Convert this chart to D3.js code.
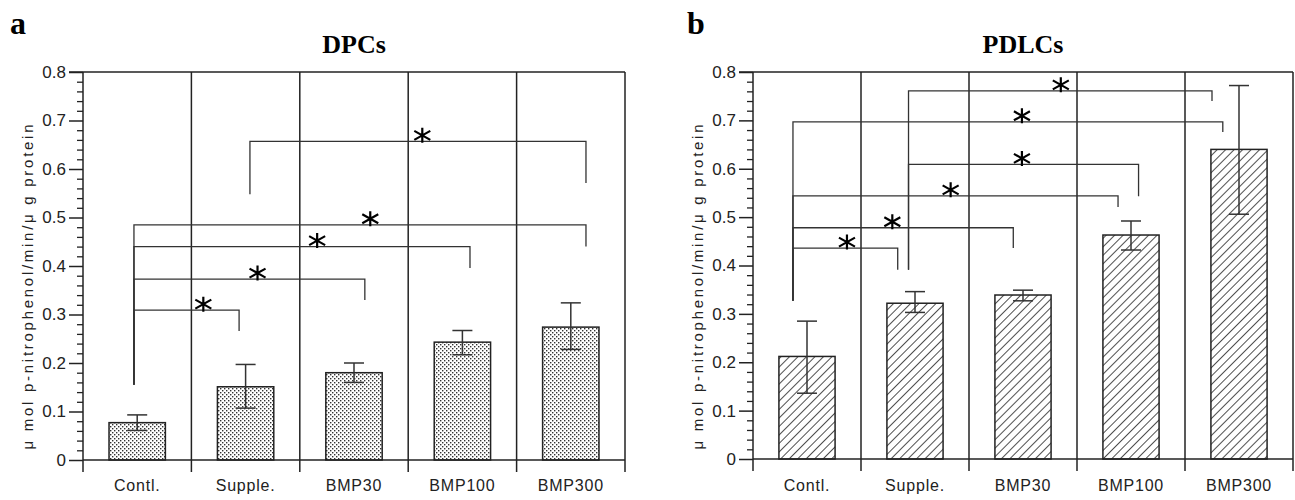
<!DOCTYPE html>
<html>
<head>
<meta charset="utf-8">
<script src="https://cdn.jsdelivr.net/npm/d3@7"></script>
<style>
  body { margin: 0; background: #fff; }
  svg { display: block; }
</style>
</head>
<body>
<div id="chart"></div>
<script>
// data
const categories = ["Contl.", "Supple.", "BMP30", "BMP100", "BMP300"];
const yTicks = [0, 0.1, 0.2, 0.3, 0.4, 0.5, 0.6, 0.7, 0.8];

const dpcMean = [0.077, 0.151, 0.180, 0.243, 0.274];
const dpcLow  = [0.061, 0.107, 0.160, 0.217, 0.228];
const dpcHigh = [0.093, 0.197, 0.200, 0.267, 0.324];

const pdlcMean = [0.212, 0.322, 0.339, 0.463, 0.640];
const pdlcLow  = [0.136, 0.303, 0.327, 0.432, 0.506];
const pdlcHigh = [0.285, 0.346, 0.349, 0.492, 0.772];

// significance brackets, x in category units (0..5), y in data units
// x1/y1 = left leg, x2/y2 = right leg, y = bar height, s = star position
const dpcBrackets = [
    {x1: 0.47, y1: 0.155, x2: 1.44, y2: 0.266, y: 0.309, s: 1.11},
    {x1: 0.47, y1: 0.155, x2: 2.60, y2: 0.330, y: 0.373, s: 1.61},
    {x1: 0.47, y1: 0.155, x2: 3.57, y2: 0.396, y: 0.440, s: 2.16},
    {x1: 0.47, y1: 0.155, x2: 4.64, y2: 0.440, y: 0.485, s: 2.65},
    {x1: 1.54, y1: 0.548, x2: 4.64, y2: 0.571, y: 0.657, s: 3.13}
];
const pdlcBrackets = [
    {x1: 0.37, y1: 0.327, x2: 1.34, y2: 0.391, y: 0.436, s: 0.87},
    {x1: 0.37, y1: 0.327, x2: 2.41, y2: 0.436, y: 0.478, s: 1.29},
    {x1: 0.37, y1: 0.327, x2: 3.38, y2: 0.521, y: 0.544, s: 1.83},
    {x1: 1.44, y1: 0.391, x2: 3.57, y2: 0.543, y: 0.609, s: 2.49},
    {x1: 0.37, y1: 0.327, x2: 4.35, y2: 0.676, y: 0.697, s: 2.49},
    {x1: 1.44, y1: 0.391, x2: 4.25, y2: 0.740, y: 0.761, s: 2.85}
];

const W = 1295, H = 500;
const svg = d3.select("#chart").append("svg")
    .attr("width", W).attr("height", H);

// fill patterns
const defs = svg.append("defs");
const dots = defs.append("pattern")
    .attr("id", "dots").attr("patternUnits", "userSpaceOnUse")
    .attr("width", 4).attr("height", 4);
dots.append("rect").attr("width", 4).attr("height", 4).attr("fill", "#fff");
dots.append("rect").attr("x", 0).attr("y", 0).attr("width", 1.4).attr("height", 1.4).attr("fill", "#333");
dots.append("rect").attr("x", 2).attr("y", 2).attr("width", 1.4).attr("height", 1.4).attr("fill", "#333");

const hatch = defs.append("pattern")
    .attr("id", "hatch").attr("patternUnits", "userSpaceOnUse")
    .attr("width", 6).attr("height", 6)
    .attr("patternTransform", "rotate(45)");
hatch.append("rect").attr("width", 6).attr("height", 6).attr("fill", "#fff");
hatch.append("line").attr("x1", 0).attr("y1", 0).attr("x2", 0).attr("y2", 6)
    .attr("stroke", "#222").attr("stroke-width", 1.6);

const starPath = "M0,-7.5L0,7.5M-8,-4.5L8,4.5M-8,4.5L8,-4.5";

function drawPanel(opt) {
    const {left, right, top, bottom, title, letter, mean, low, high, brackets, fill} = opt;
    const g = svg.append("g");

    const x = d3.scaleLinear().domain([0, categories.length]).range([left, right]);
    const y = d3.scaleLinear().domain([0, 0.8]).range([bottom, top]);

    // panel letter and title
    g.append("text")
        .attr("x", opt.letterX).attr("y", 34)
        .attr("font-family", "Liberation Serif, Times New Roman, serif")
        .attr("font-weight", "bold").attr("font-size", 32)
        .text(letter);
    g.append("text")
        .attr("x", (left + right) / 2).attr("y", 53)
        .attr("text-anchor", "middle")
        .attr("font-family", "Liberation Serif, Times New Roman, serif")
        .attr("font-weight", "bold").attr("font-size", 26)
        .text(title);

    // bars
    const bw = 0.52;
    g.selectAll("rect.bar")
        .data(mean)
        .enter().append("rect")
        .attr("class", "bar")
        .attr("x", (d, i) => x(i + 0.5 - bw / 2))
        .attr("width", x(bw) - x(0))
        .attr("y", d => y(d))
        .attr("height", d => y(0) - y(d))
        .attr("fill", `url(#${fill})`)
        .attr("stroke", "#222").attr("stroke-width", 1.5);

    // error bars
    const eb = g.selectAll("g.err").data(mean).enter().append("g")
        .attr("stroke", "#333").attr("stroke-width", 1.5);
    eb.append("line")
        .attr("x1", (d, i) => x(i + 0.5)).attr("x2", (d, i) => x(i + 0.5))
        .attr("y1", (d, i) => y(low[i])).attr("y2", (d, i) => y(high[i]));
    eb.append("line")
        .attr("x1", (d, i) => x(i + 0.5) - 10).attr("x2", (d, i) => x(i + 0.5) + 10)
        .attr("y1", (d, i) => y(high[i])).attr("y2", (d, i) => y(high[i]));
    eb.append("line")
        .attr("x1", (d, i) => x(i + 0.5) - 10).attr("x2", (d, i) => x(i + 0.5) + 10)
        .attr("y1", (d, i) => y(low[i])).attr("y2", (d, i) => y(low[i]));

    // frame: top line, baseline, category dividers extending below baseline
    const frame = g.append("g").attr("stroke", "#222").attr("stroke-width", 1.5);
    frame.append("line")
        .attr("x1", x(0) - 14).attr("x2", x(categories.length))
        .attr("y1", y(0.8)).attr("y2", y(0.8));
    frame.append("line")
        .attr("x1", x(0)).attr("x2", x(categories.length))
        .attr("y1", y(0)).attr("y2", y(0));
    frame.selectAll("line.div")
        .data(d3.range(categories.length + 1))
        .enter().append("line")
        .attr("class", "div")
        .attr("x1", d => x(d)).attr("x2", d => x(d))
        .attr("y1", y(0.8)).attr("y2", y(0) + 12);

    // brackets
    const br = g.append("g").attr("stroke", "#333").attr("stroke-width", 1.3).attr("fill", "none");
    br.selectAll("path")
        .data(brackets)
        .enter().append("path")
        .attr("d", d => `M${x(d.x1)},${y(d.y1)}V${y(d.y)}H${x(d.x2)}V${y(d.y2)}`);
    g.append("g").selectAll("path")
        .data(brackets)
        .enter().append("path")
        .attr("transform", d => `translate(${x(d.s)},${y(d.y) - 6})`)
        .attr("d", starPath)
        .attr("stroke", "#000").attr("stroke-width", 2.2);

    // y axis with minor ticks
    const major = g.append("g")
        .attr("transform", `translate(${left},0)`)
        .call(d3.axisLeft(y).tickValues(yTicks).tickSize(14).tickPadding(3)
            .tickFormat(d => d === 0 ? "0" : d3.format(".1f")(d)));
    major.select(".domain").remove();
    major.selectAll("line").attr("stroke", "#222").attr("stroke-width", 1.5);
    major.selectAll("text")
        .attr("font-family", "Liberation Sans Narrow, Arial Narrow, Liberation Sans, sans-serif")
        .attr("font-size", 17).attr("fill", "#222");

    const minorVals = d3.range(1, 40).filter(k => k % 5 !== 0).map(k => k * 0.02);
    const minor = g.append("g")
        .attr("transform", `translate(${left},0)`)
        .call(d3.axisLeft(y).tickValues(minorVals).tickSize(6).tickFormat(""));
    minor.select(".domain").remove();
    minor.selectAll("line").attr("stroke", "#222").attr("stroke-width", 1.3);

    // x labels
    g.selectAll("text.xl")
        .data(categories)
        .enter().append("text")
        .attr("class", "xl")
        .attr("x", (d, i) => x(i + 0.5)).attr("y", 491)
        .attr("text-anchor", "middle")
        .attr("font-family", "Liberation Sans, Arial, sans-serif")
        .attr("font-size", 16).attr("letter-spacing", 0.8).attr("fill", "#222")
        .text(d => d);

    // y label
    g.append("text")
        .attr("transform", `translate(${left - 50},287) rotate(-90)`)
        .attr("text-anchor", "middle")
        .attr("font-family", "Liberation Sans, Arial, sans-serif")
        .attr("font-size", 15).attr("fill", "#222")
        .attr("textLength", 325).attr("lengthAdjust", "spacing")
        .text("\u03bc mol p-nitrophenol/min/\u03bc g protein");
}

drawPanel({
    left: 83, right: 625, top: 72, bottom: 460,
    title: "DPCs", letter: "a", letterX: 10,
    mean: dpcMean, low: dpcLow, high: dpcHigh,
    brackets: dpcBrackets, fill: "dots"
});
drawPanel({
    left: 753, right: 1293, top: 72, bottom: 459,
    title: "PDLCs", letter: "b", letterX: 687,
    mean: pdlcMean, low: pdlcLow, high: pdlcHigh,
    brackets: pdlcBrackets, fill: "hatch"
});
</script>
</body>
</html>
